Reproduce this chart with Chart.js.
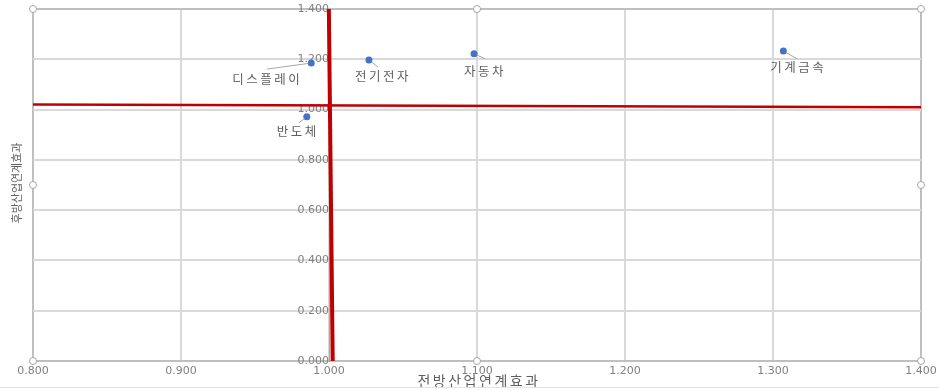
<!DOCTYPE html>
<html>
<head>
<meta charset="utf-8">
<script src="https://cdn.jsdelivr.net/npm/chart.js@4.4.1/dist/chart.umd.min.js"></script>
<style>
    body { margin: 0; background: #fff; }
    #wrap { width: 939px; height: 390px; position: relative; }
</style>
</head>
<body>
<div id="wrap"><canvas id="linkage-chart"></canvas></div>
<script>
// industries and their forward / backward linkage effects
const sectors = ["디스플레이", "전기전자", "반도체", "자동차", "기계금속"];
const forwardEffect = [0.988, 1.027, 0.985, 1.098, 1.307];
const backwardEffect = [1.185, 1.197, 0.971, 1.222, 1.233];

// red reference lines (roughly 1.0 on both axes)
const verticalRefX = [0.9999, 1.0025];
const verticalRefY = [1.4, 0.0];
const horizontalRefX = [0.8, 1.4];
const horizontalRefY = [1.020, 1.009];

const xTitle = "전방산업연계효과";
const yTitle = "후방산업연계효과";

// where each data label sits relative to its point (px), and where the leader line ends
const labelOffsets = [[-45, 16], [13, 16], [-10, 14], [10, 17], [14, 16]];
const leaderEnds = [[-44, 6], [9, 7], [-8, 6], [11, 5], [14, 8]];

const textGray = "#5f5f5f";
const gridGray = "#d9d9d9";
const edgeGray = "#bfbfbf";

let points = sectors.map(function (name, i) {
    return { x: forwardEffect[i], y: backwardEffect[i] };
});
let vLine = verticalRefX.map(function (x, i) { return { x: x, y: verticalRefY[i] }; });
let hLine = horizontalRefX.map(function (x, i) { return { x: x, y: horizontalRefY[i] }; });

const decorations = {
    id: "decorations",
    afterDatasetsDraw: function (chart) {
        let ctx = chart.ctx;
        let area = chart.chartArea;
        let meta = chart.getDatasetMeta(0);

        ctx.save();
        // leader lines + labels
        ctx.font = "12.5px 'Noto Sans CJK KR'";
        ctx.letterSpacing = "2.5px";
        ctx.fillStyle = textGray;
        ctx.textAlign = "center";
        ctx.textBaseline = "middle";
        ctx.strokeStyle = "#a6a6a6";
        ctx.lineWidth = 1;
        meta.data.forEach(function (pt, i) {
            let end = leaderEnds[i];
            let len = Math.hypot(end[0], end[1]);
            ctx.beginPath();
            ctx.moveTo(pt.x + end[0] * 3 / len, pt.y + end[1] * 3 / len);
            ctx.lineTo(pt.x + end[0], pt.y + end[1]);
            ctx.stroke();
            let off = labelOffsets[i];
            ctx.fillText(sectors[i], pt.x + off[0] + 1, pt.y + off[1]);
        });

        // axis titles
        ctx.font = "14px 'Noto Sans CJK KR'";
        ctx.letterSpacing = "2.5px";
        ctx.fillText(xTitle, (area.left + area.right) / 2 + 2, area.bottom + 20);

        ctx.font = "11px 'Noto Sans CJK KR'";
        ctx.letterSpacing = "0px";
        ctx.translate(17, (area.top + area.bottom) / 2 - 2);
        ctx.rotate(-Math.PI / 2);
        ctx.fillText(yTitle, 0, 0);
        ctx.restore();

        // selection handles round the plot area
        ctx.save();
        let cx = (area.left + area.right) / 2;
        let cy = (area.top + area.bottom) / 2;
        let handles = [
            [area.left, area.top], [cx, area.top], [area.right, area.top],
            [area.left, cy], [area.right, cy],
            [area.left, area.bottom], [cx, area.bottom], [area.right, area.bottom],
        ];
        ctx.fillStyle = "#fff";
        ctx.strokeStyle = "#a6a6a6";
        ctx.lineWidth = 1;
        handles.forEach(function (h) {
            ctx.beginPath();
            ctx.arc(h[0], h[1], 3.5, 0, Math.PI * 2);
            ctx.fill();
            ctx.stroke();
        });
        // outer frame bottom edge
        ctx.strokeStyle = "#e3e3e3";
        ctx.beginPath();
        ctx.moveTo(0, chart.height - 2.5);
        ctx.lineTo(chart.width, chart.height - 2.5);
        ctx.stroke();
        ctx.restore();
    },
};

let canvas = document.getElementById("linkage-chart");
window.linkageChart = new Chart(canvas, {
    type: "scatter",
    data: {
        datasets: [
            {
                data: points,
                backgroundColor: "#4472c4",
                borderWidth: 0,
                pointRadius: 3.5,
            },
            {
                data: vLine,
                showLine: true,
                borderColor: "#c00000",
                borderWidth: 4,
                pointRadius: 0,
            },
            {
                data: hLine,
                showLine: true,
                borderColor: "#c00000",
                borderWidth: 2.5,
                pointRadius: 0,
            },
        ],
    },
    options: {
        responsive: true,
        maintainAspectRatio: false,
        animation: false,
        layout: { padding: { left: 33, top: 9, right: 18, bottom: 0 } },
        plugins: {
            legend: false,
            tooltip: { enabled: false },
        },
        scales: {
            x: {
                type: "linear",
                min: 0.8,
                max: 1.4,
                afterFit: function (scale) {
                    scale.height = 29;
                    scale.paddingLeft = 0;
                    scale.paddingRight = 0;
                },
                ticks: {
                    stepSize: 0.1,
                    padding: 4,
                    color: "#808080",
                    font: { family: "DejaVu Sans", size: 11 },
                    callback: function (v) {
                        return Number(v).toFixed(3);
                    },
                },
                grid: {
                    drawTicks: false,
                    lineWidth: 2,
                    color: function (c) {
                        let v = c.tick ? c.tick.value : 0;
                        return (v < 0.81 || v > 1.39) ? edgeGray : gridGray;
                    },
                },
                border: { display: true, color: edgeGray, width: 2 },
            },
            y: {
                type: "linear",
                min: 0,
                max: 1.4,
                position: { x: 1.0 },
                afterFit: function (scale) {
                    scale.paddingTop = 0;
                    scale.paddingBottom = 0;
                },
                ticks: {
                    stepSize: 0.2,
                    padding: 17,
                    color: "#808080",
                    font: { family: "DejaVu Sans", size: 11 },
                    callback: function (v) {
                        return Number(v).toFixed(3);
                    },
                },
                grid: {
                    drawTicks: false,
                    lineWidth: 2,
                    color: function (c) {
                        let v = c.tick ? c.tick.value : 0;
                        return v > 1.39 ? edgeGray : gridGray;
                    },
                },
                border: { display: true, color: "#8faadc", width: 1 },
            },
        },
    },
    plugins: [decorations],
});
</script>
</body>
</html>
